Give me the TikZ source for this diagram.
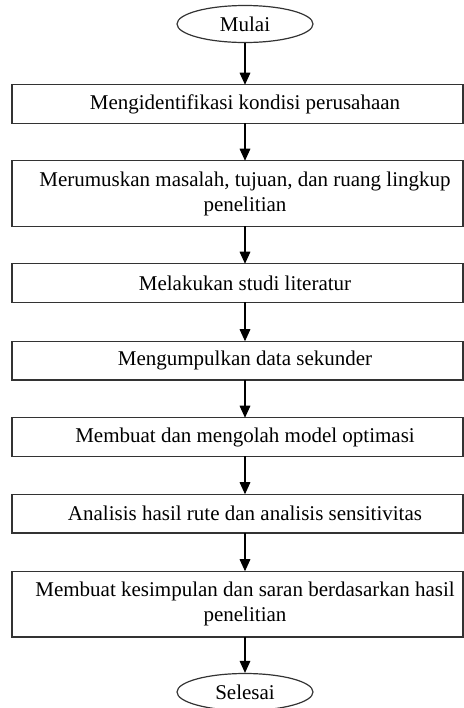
\documentclass[tikz,border=0pt]{standalone}
\usepackage{fontspec}
\setmainfont{Liberation Serif}
\usetikzlibrary{shapes.geometric,arrows.meta}
\begin{document}
\begin{tikzpicture}[x=0.75pt,y=-0.75pt,
  txt/.style={align=center, inner sep=0pt, font=\fontsize{15.75}{18.75}\selectfont, text=black},
  onebox/.style={txt, minimum height=28.5pt},
  twobox/.style={txt, minimum height=48.75pt},
  term/.style={txt, ellipse, draw=black!80, line width=0.9pt, minimum width=102pt, minimum height=27.75pt},
  frame/.style={draw=black!80, line width=1.1pt},
  flow/.style={draw=black, line width=0.8pt, -{Triangle[width=8pt,length=9pt]}}]
\useasboundingbox (0,0) rectangle (464,708);
\coordinate (L) at (12,0);
\coordinate (R) at (463,0);
\node[term] (start) at (245,24) {Mulai};
\node[onebox] (b1) at (245,104) {Mengidentifikasi kondisi perusahaan};
\node[twobox] (b2) at (245,193.5) {Merumuskan masalah, tujuan, dan ruang lingkup\\penelitian};
\node[onebox] (b3) at (245,283) {Melakukan studi literatur};
\node[onebox] (b4) at (245,360.5) {Mengumpulkan data sekunder};
\node[onebox] (b5) at (245,437) {Membuat dan mengolah model optimasi};
\node[onebox] (b6) at (245,513.5) {Analisis hasil rute dan analisis sensitivitas};
\node[twobox] (b7) at (245,604) {Membuat kesimpulan dan saran berdasarkan hasil\\penelitian};
\node[term] (end) at (245,692) {Selesai};
\foreach \n in {b1,b2,b3,b4,b5,b6,b7}
  \draw[frame] (\n.north -| L) rectangle (\n.south -| R);
\draw[flow] (start.south) -- (b1.north);
\draw[flow] (b1.south) -- (b2.north);
\draw[flow] (b2.south) -- (b3.north);
\draw[flow] (b3.south) -- (b4.north);
\draw[flow] (b4.south) -- (b5.north);
\draw[flow] (b5.south) -- (b6.north);
\draw[flow] (b6.south) -- (b7.north);
\draw[flow] (b7.south) -- (end.north);
\end{tikzpicture}
\end{document}
